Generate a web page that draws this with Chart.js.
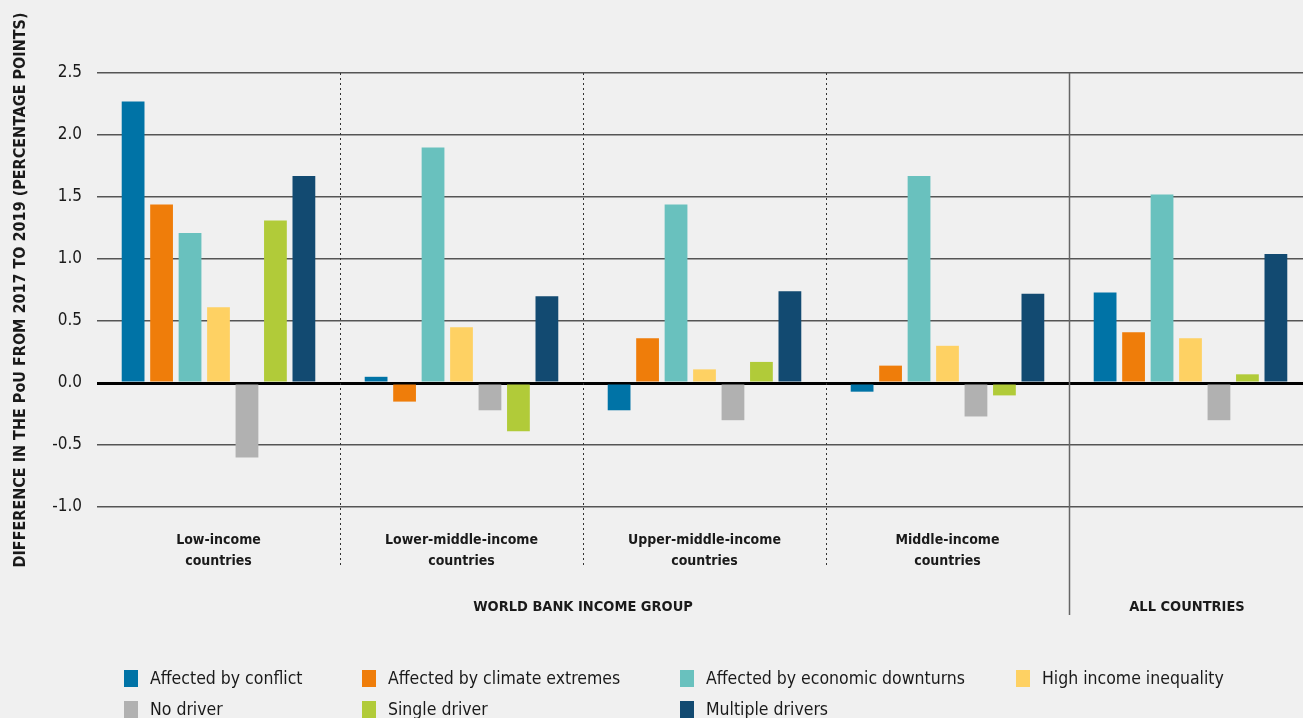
<!DOCTYPE html>
<html>
<head>
<meta charset="utf-8">
<script src="https://cdn.jsdelivr.net/npm/chart.js@4"></script>
<style>
  html, body { margin: 0; background: #f0f0f0; overflow: hidden; font-family: "DejaVu Sans Condensed", "Liberation Sans Narrow", sans-serif; }
  .wrap { position: relative; width: 1303px; height: 718px; overflow: hidden; }
  #legend { position: absolute; left: 124px; top: 667px; display: grid;
    grid-template-columns: 238px 318px 336px 260px; row-gap: 9px; }
  .item { display: flex; align-items: center; font-size: 17.5px; color: #1a1a1a; height: 22px; }
  .box { width: 14px; height: 17px; margin-right: 12px; flex: none; }
</style>
</head>
<body>
<div class="wrap">
  <canvas id="pouChart" width="1312" height="718"></canvas>
  <div id="legend"></div>
</div>
<script>
  // categories (income groups), last one is "all countries"
  const groups = [
    ["Low-income", "countries"],
    ["Lower-middle-income", "countries"],
    ["Upper-middle-income", "countries"],
    ["Middle-income", "countries"],
    ["", ""]
  ];
  const seriesNames = [
    "Affected by conflict", "Affected by climate extremes", "Affected by economic downturns",
    "High income inequality", "No driver", "Single driver", "Multiple drivers"
  ];
  const seriesColors = ["#0073a6", "#ef7d0a", "#69c1be", "#fed163", "#b1b1b1", "#b1cb39", "#124a71"];

  // difference in PoU
  const conflict   = [2.27, 0.05, -0.22, -0.07, 0.73];
  const climate    = [1.44, -0.15, 0.36, 0.14, 0.41];
  const economic   = [1.21, 1.90, 1.44, 1.67, 1.52];
  const inequality = [0.61, 0.45, 0.11, 0.30, 0.36];
  const noDriver   = [-0.60, -0.22, -0.30, -0.27, -0.30];
  const single     = [1.31, -0.39, 0.17, -0.10, 0.07];
  const multiple   = [1.67, 0.70, 0.74, 0.72, 1.04];
  const yTicks = [-1.0, -0.5, 0.0, 0.5, 1.0, 1.5, 2.0, 2.5];

  const FONT = '"DejaVu Sans Condensed", "Liberation Sans Narrow", sans-serif';
  const allSeries = [conflict, climate, economic, inequality, noDriver, single, multiple];

  // legend as plain html
  const legendEl = document.getElementById("legend");
  seriesNames.forEach((name, i) => {
    const d = document.createElement("div");
    d.className = "item";
    d.innerHTML = '<span class="box" style="background:' + seriesColors[i] + '"></span>' + name;
    legendEl.appendChild(d);
  });

  // separators, category labels, group labels, y title
  const decorPlugin = {
    id: "decor",
    afterDraw(chart) {
      const c = chart.ctx, a = chart.chartArea, xs = chart.scales.x;
      const step = a.width / groups.length;
      c.save();
      for (let i = 1; i < groups.length; i++) {
        const x = Math.round(a.left + step * i) + 0.5;
        c.beginPath();
        if (i < groups.length - 1) {
          c.setLineDash([2, 3]);
          c.strokeStyle = "#333";
          c.lineWidth = 1;
          c.moveTo(x, a.top); c.lineTo(x, 565);
        } else {
          c.setLineDash([]);
          c.strokeStyle = "#666";
          c.lineWidth = 1.5;
          c.moveTo(x, a.top); c.lineTo(x, 615);
        }
        c.stroke();
      }
      c.setLineDash([]);
      c.fillStyle = "#1a1a1a";
      c.textAlign = "center";
      c.textBaseline = "middle";
      c.font = "bold 14px " + FONT;
      groups.forEach((g, i) => {
        const x = xs.getPixelForValue(i);
        c.fillText(g[0], x, 540);
        c.fillText(g[1], x, 561);
      });
      c.font = "bold 14.5px " + FONT;
      c.fillText("WORLD BANK INCOME GROUP", (a.left + a.left + step * 4) / 2, 607);
      c.fillText("ALL COUNTRIES", 1187, 607);
      c.font = "bold 16px " + FONT;
      c.translate(21, 290);
      c.rotate(-Math.PI / 2);
      c.fillText("DIFFERENCE IN THE PoU FROM 2017 TO 2019 (PERCENTAGE POINTS)", 0, 0);
      c.restore();
    }
  };

  new Chart(document.getElementById("pouChart"), {
    type: "bar",
    data: {
      labels: groups.map(g => g.join(" ")),
      datasets: seriesNames.map((name, i) => ({
        label: name,
        data: allSeries[i],
        backgroundColor: seriesColors[i],
        categoryPercentage: 0.82,
        barPercentage: 0.8
      }))
    },
    options: {
      responsive: false,
      animation: false,
      layout: { padding: { top: 73, bottom: 211, right: 0, left: 0 } },
      plugins: { legend: { display: false }, tooltip: { enabled: false } },
      scales: {
        x: { display: false },
        y: {
          min: -1, max: 2.5,
          afterFit(scale) { scale.width = 97; },
          afterBuildTicks(scale) { scale.ticks = yTicks.map(v => ({ value: v })); },
          border: { display: false },
          grid: {
            drawTicks: false,
            color: ctx => ctx.tick && ctx.tick.value === 0 ? "#000" : "#555",
            lineWidth: ctx => ctx.tick && ctx.tick.value === 0 ? 3 : 1.5
          },
          ticks: {
            padding: 15,
            color: "#1a1a1a",
            font: { family: FONT, size: 17 },
            callback: v => v.toFixed(1)
          }
        }
      }
    },
    plugins: [decorPlugin]
  });
</script>
</body>
</html>
